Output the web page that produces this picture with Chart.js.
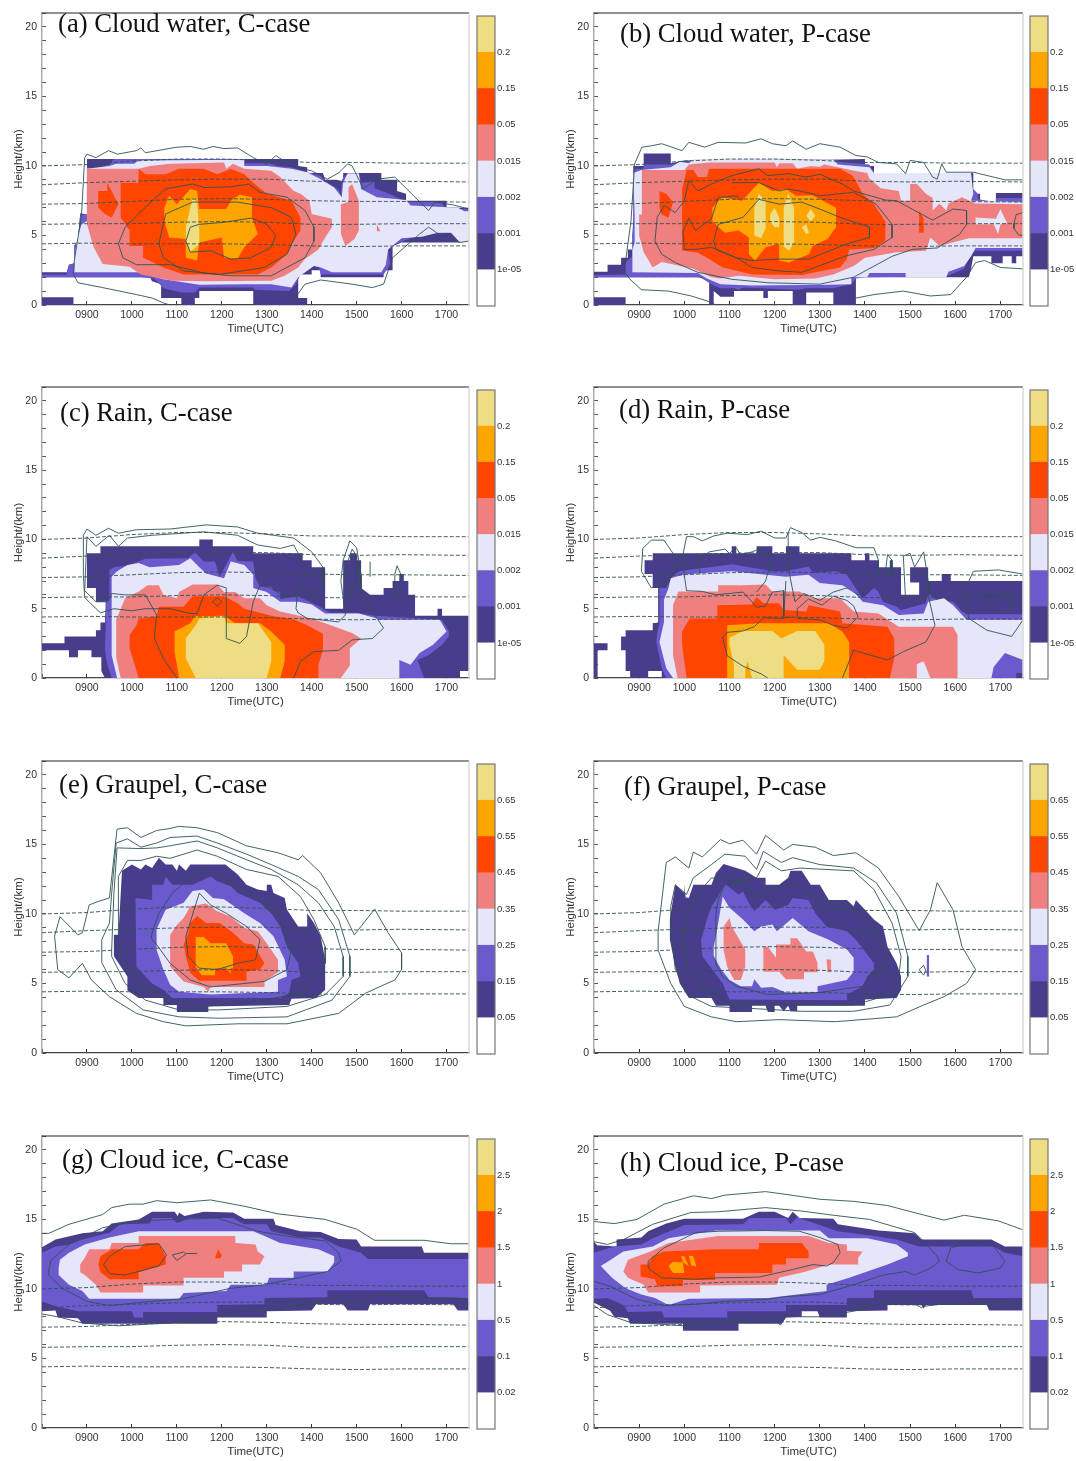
<!DOCTYPE html>
<html>
<head>
<meta charset="utf-8">
<title>Hydrometeor time-height sections</title>
<script src="https://cdn.jsdelivr.net/npm/chart.js@4"></script>
<style>
  html, body { margin: 0; background: #fff; }
  #page { position: relative; width: 1076px; height: 1461px; overflow: hidden; }
  #page canvas { position: absolute; }
  .panelTitle { position: absolute; font-family: "Liberation Serif", serif; font-size: 26.7px; line-height: 26px; color: #111; white-space: nowrap; }
</style>
</head>
<body>
<div id="page"></div>
<script>
// shading classes, low to high
const levelColors = ["#ffffff", "#483d8b", "#6a5acd", "#e6e6fa", "#f08080", "#ff4500", "#ffa500", "#eedd82"];
const waterLabels = ["1e-05", "0.001", "0.002", "0.015", "0.05", "0.15", "0.2"];
const graupelLabels = ["0.05", "0.15", "0.25", "0.35", "0.45", "0.55", "0.65"];
const iceLabels = ["0.02", "0.1", "0.5", "1", "1.5", "2", "2.5"];

// dashed isotherms, [hour UTC, km], the same in every panel
const iso1 = [[8,10],[9,10.1],[10,10.35],[11,10.5],[12,10.5],[13,10.4],[14,10.25],[15,10.25],[16,10.2],[17.5,10.2]];
const iso2 = [[8,8.65],[9,8.8],[10,8.9],[11,9],[12,9.05],[13,9.05],[14,8.9],[15,8.85],[16,8.9],[17.5,8.85]];
const iso3 = [[8,7.25],[9,7.3],[10,7.45],[11,7.6],[12,7.65],[13,7.6],[14,7.5],[15,7.45],[16,7.45],[17.5,7.4]];
const iso4 = [[8,5.8],[9,5.85],[10,5.85],[11,5.95],[12,6],[13,5.95],[14,5.8],[15,5.8],[16,5.85],[17.5,5.85]];
const iso5 = [[8,4.4],[9,4.45],[10,4.4],[11,4.4],[12,4.4],[13,4.35],[14,4.25],[15,4.2],[16,4.25],[17.5,4.25]];

// (a) cloud water, C-case
const aFill1 = [[8,2],[8,2.35],[8.55,2.35],[8.6,2.9],[8.72,3],[8.72,4.3],[8.8,4.6],[8.85,6.6],[9,6.5],[9,10.5],[13.7,10.5],[13.7,10],[13.9,9.9],[13.9,9.5],[14.25,9.5],[14.3,9],[14.55,9],[14.7,8.9],[14.7,9.5],[15.55,9.5],[15.55,9],[15.9,9],[15.9,8.2],[16.1,8],[16.1,7.5],[17,7.5],[17,7],[17.5,7],[17.5,4.6],[17.3,4.5],[16,4.5],[15.85,4.3],[15.8,4.2],[15.8,2.5],[15.6,2.5],[15.6,2],[14.2,2],[14.2,2.5],[14,2.5],[14,2.2],[13.7,2.2],[13.7,0.5],[13.9,0.5],[13.9,0],[12.7,0],[12.7,1],[11.5,1],[11.5,0.5],[11.4,0.5],[11.4,0],[11.1,0],[11.1,0.5],[10.65,0.5],[10.65,1.5],[10.45,1.7],[10.4,2]];
const aFill1b = [[8,0],[8,0.55],[8.7,0.55],[8.7,0]];
const aFill2 = [[8,2],[8,2.2],[8.55,2.2],[8.6,2.9],[8.72,3],[8.72,4.3],[8.8,4.6],[8.85,6.5],[9,6.5],[9,9.9],[9.15,9.7],[9.5,10.1],[9.6,10.5],[12.5,10.5],[12.5,10.2],[13.05,10.2],[13.25,10],[13.55,9.9],[13.9,9.55],[14.2,9.3],[14.3,8.9],[14.6,8.3],[14.65,7.9],[14.67,9],[14.8,9.5],[15.05,9.5],[15.1,8.8],[15.4,8.9],[15.4,8.4],[15.8,7.9],[16.1,7.4],[16.9,7.4],[16.95,7.05],[17.25,7],[17.3,6.9],[17.5,6.9],[17.5,4.6],[17.35,4.6],[17.1,5.2],[16.4,5.05],[16,4.55],[15.8,4.3],[15.7,4],[15.75,2.9],[15.6,2.2],[14.2,2.2],[14.15,2.9],[13.95,2.9],[13.75,2.2],[13.65,1.5],[13.5,1],[12.75,1.1],[12.7,1.25],[11.5,1.25],[11.4,0.9],[11.1,0.9],[10.7,1.2],[10.5,1.9],[10.2,2]];
const aFill3 = [[8.72,2.35],[8.72,3.2],[8.77,4.6],[8.88,5.8],[9,6.05],[9,9.8],[9.5,10],[9.65,10.15],[10.05,10.15],[10.15,10.4],[12.5,10.45],[12.5,10],[13,10],[13.55,9.8],[13.9,9.55],[14.2,9.05],[14.5,8.45],[14.67,7.75],[14.7,8.8],[14.8,9.45],[15.05,9.45],[15.1,8.35],[15.45,7.75],[16.1,7.55],[16.2,7.15],[17.25,7],[17.4,6.75],[17.5,6.75],[17.5,4.5],[17.3,4.5],[17.1,5.2],[16.8,5.2],[16.45,4.9],[16,4.8],[15.7,4],[15.65,2.9],[15.55,2.35],[14.45,2.35],[14.2,2.7],[14.05,2.8],[13.7,2],[13.55,1.25],[13.1,1.5],[12.5,1.5],[11.5,1.45],[10.7,1.85],[10.15,2.35]];
const aFill4 = [[9,9.8],[10.15,9.8],[10.4,10],[10.85,10.15],[12.05,10.25],[12.1,9.8],[12.25,10.15],[12.5,9.8],[13.1,9.65],[13.3,9.2],[13.6,8.2],[13.75,8],[13.95,7.5],[14,6.55],[14.45,6.2],[14.45,5.6],[14.3,4.85],[14.15,4],[13.85,3.3],[13.7,2.7],[13.4,2.1],[13.1,1.75],[11.6,1.7],[10.9,1.75],[10.2,2.2],[9.95,2.75],[9.35,2.95],[9.15,4.15],[9,5.8]];
const aFill4b = [[14.75,4.25],[14.95,4.75],[15.05,5.35],[15.05,7.5],[14.9,8.7],[14.82,8.45],[14.82,7.4],[14.65,7.25],[14.65,5.1]];
const aFill4c = [[15.45,5.8],[15.53,5.3],[15.45,5.3]];
const aFill5 = [[9.75,8.8],[10.15,8.8],[10.15,9.8],[10.3,9.4],[10.75,9.4],[11.05,9.8],[11.6,9.8],[11.9,9.4],[12.2,9.8],[12.5,9.4],[12.7,8.8],[13,8],[13.55,7.5],[13.75,6.3],[13.75,5.35],[13.6,4.6],[13.45,3.65],[13.1,2.7],[12.8,2.2],[11.15,2.2],[10.7,2.7],[10.25,3.4],[10.25,4.25],[9.95,4.25],[9.95,5.35],[9.75,6.3]];
const aFill5b = [[9.25,8.2],[9.45,8.2],[9.45,8.8],[9.55,8.2],[9.7,7.25],[9.55,6.3],[9.4,6.55],[9.25,7]];
const aFill6 = [[10.72,7],[10.83,7.85],[11,7.25],[11.3,8.35],[11.45,8.2],[11.5,6.9],[12.1,6.9],[12.2,7.5],[12.4,7.95],[12.67,7.75],[12.67,6.3],[12.8,5.1],[12.5,4.15],[12.35,3.3],[12.05,3.4],[12,4.85],[11.5,4.5],[11.45,3.2],[11.2,3.4],[11.2,4.75],[10.83,4.85],[10.72,6.05]];
const aFill7 = [[11.2,5.6],[11.3,7],[11.35,7.7],[11.45,7.4],[11.5,5.35],[11.5,4.4],[11.3,3.8],[11.2,4.6]];
const aLine1 = [[10.85,0],[10.7,0.15],[10.45,0.5],[10.1,0.75],[9.35,1.25],[8.8,1.6],[8.7,2.2],[8.72,3.2],[8.88,6.5],[8.95,10.6],[9,10.85],[9.2,10.6],[9.48,11.1],[9.68,10.85],[10.1,11.1],[10.2,11.3],[10.3,10.95],[11,11.35],[11.3,11.4],[11.6,11.2],[11.8,11.4],[12.05,11.25],[12.35,11.3],[12.7,10.6],[13,10.1],[13.2,10.75],[13.55,10],[14,9.65],[14.35,9.05],[14.6,9.5],[14.8,10.15],[14.9,10],[15.15,8.35],[15.45,9.05],[15.85,9.2],[16.3,7.75],[16.6,6.8],[16.75,7.4],[17.15,7.2],[17.5,6.9]];
const aLine1b = [[17.5,4.6],[17.3,4.5],[16.8,5.15],[16.6,5.6],[16.4,5.1],[15.8,3.4],[15.6,1.5],[15.35,1.25],[14.9,1.5],[14.2,1.8],[13.85,1.5],[13.55,0.15]];
const aLine2 = [[9.7,4.4],[9.85,5.6],[10.15,6.55],[10.45,7.5],[10.75,8.35],[11.35,8.7],[11.6,8.45],[12.2,8.5],[12.6,8.7],[12.85,8.1],[13.45,7.75],[13.85,6.8],[14.05,5.6],[14.05,4.6],[13.85,3.4],[13.1,2.1],[12.2,2.1],[11.6,2.3],[10.85,2.9],[10.1,2.9],[9.8,3.4],[9.7,4.4]];
const aLine3 = [[10.6,4.4],[10.75,6.55],[11.35,7.4],[11.9,7.4],[12.35,7.4],[13.1,7],[13.55,6.3],[13.65,5.1],[13.45,3.65],[12.95,2.7],[11.95,2.2],[11.15,2.45],[10.7,3.4],[10.6,4.4]];
const aLine4 = [[11.2,4.6],[11.3,5.6],[11.5,5.8],[12.05,5.95],[12.65,6.25],[13,5.8],[13.2,5],[13.1,4.15],[12.65,3.4],[12.2,3.3],[11.75,3.9],[11.3,3.8],[11.2,4.6]];

// (b) cloud water, P-case
const bFill1 = [[8,2],[8,2.4],[8.3,2.4],[8.3,2.9],[8.6,2.9],[8.6,3.4],[8.75,3.4],[8.75,4],[8.85,4],[8.85,5],[8.87,6.2],[8.87,10],[9.1,10],[9.1,10.9],[9.7,10.9],[9.7,10.2],[10,10.4],[11,10.45],[13.25,10.45],[14,10.5],[14,10],[14.2,10],[14.2,9.5],[16.4,9.5],[16.4,8],[16.55,8],[16.55,7.4],[16.9,7.4],[16.9,8.05],[17.5,8.05],[17.5,3.5],[17.35,3.5],[17.35,3],[17.25,3],[17.25,3.5],[17.05,3.5],[17.05,3],[16.8,3],[16.8,3.5],[16.4,3.5],[16.35,2.6],[16.3,2],[13.8,2],[13.8,0],[13.3,0],[13.3,0.9],[12.7,0.9],[12.7,0],[12.4,0],[12.4,1],[11.85,1],[11.85,0.5],[11.75,0.5],[11.75,1],[11.1,1],[11.1,0.6],[10.8,0.6],[10.65,1],[10.65,0],[10.55,0],[10.55,1.8],[10.3,2]];
const bFill1b = [[8,0],[8,0.55],[8.7,0.55],[8.7,0]];
const bFill2 = [[8,2],[8,2.15],[8.7,2.2],[8.7,3.1],[8.85,3.5],[8.85,5],[8.88,6],[8.88,9.8],[9.1,9.8],[9.1,10.1],[9.7,10.1],[10,10.3],[11,10.45],[13.4,10.45],[13.4,10.3],[14.1,10.1],[14.2,9.5],[16.35,9.5],[16.35,8.5],[16.5,8],[16.5,7.6],[16.9,7.4],[16.9,7.7],[17.5,7.7],[17.5,3.9],[16.45,3.9],[16.3,3.5],[16.2,2.6],[15.8,2.05],[14,2],[13.8,1.9],[13.7,1.5],[13.3,1.2],[12.7,1.2],[12.5,1.1],[11.3,1.25],[11.2,1.1],[11.1,1.2],[10.8,1.2],[10.6,1.5],[10.35,2]];
const bFill3 = [[8.85,2.35],[8.85,4],[8.9,4.5],[8.9,6.5],[8.87,9.5],[9.05,9.7],[9.7,9.9],[9.9,10.3],[10.1,10.2],[10.2,10.5],[13.3,10.45],[13.4,10.1],[14.1,9.9],[14.2,9.5],[16.35,9.5],[16.4,8],[16.35,7.5],[17.5,7.4],[17.5,4.1],[16.45,4.1],[16.35,3.5],[16.2,2.8],[15.85,2.4],[15.8,2],[14.9,2],[14.9,2.3],[14.1,2.3],[14.05,2],[13.7,2],[13.7,1.5],[13.2,1.45],[11.5,1.4],[10.8,1.5],[10.5,1.9],[10.3,2.3]];
const bFill4 = [[9.06,9.7],[10,9.7],[10.1,10.1],[10.55,10.25],[12,10.25],[12.05,9.9],[12.1,10.2],[12.4,10.2],[12.5,9.8],[12.8,10],[13,9.95],[13.1,10.1],[13.4,9.9],[13.85,9.6],[14.05,9.5],[14.1,9.1],[14.35,8.4],[14.75,8.2],[14.8,7.5],[15,7.5],[15,8.7],[15.15,8.7],[15.35,8],[15.5,7.7],[15.5,6.8],[15.65,7.3],[15.8,6.8],[15.85,7.3],[16.15,7.75],[16.45,7.3],[17.5,7.25],[17.5,4.8],[16.3,4.8],[15.65,4.25],[15.45,4.85],[15.35,3.9],[14.7,3.8],[14,3.4],[13.75,2.8],[13.3,2.2],[12.9,1.9],[12,1.85],[11.2,2.1],[10.8,1.9],[10.6,2],[10.2,2.6],[9.5,3.1],[9.3,2.7],[9.1,3.8],[9,5],[9,6.5],[9.06,6.5]];
const bHole1 = [[16.45,6.3],[16.9,6.2],[17,6.9],[17.1,6.2],[17.15,5.9],[17,5.8],[16.95,5.1],[16.85,5.8],[16.45,5.8]];
const bFill5 = [[9.97,3.9],[9.95,8.3],[10.05,9.7],[10.2,9.7],[10.3,9.2],[10.5,9.2],[10.55,9.8],[13.45,9.8],[13.73,9.3],[13.95,8],[14.2,7.25],[14.45,6],[14.45,4.6],[14.2,4.1],[13.65,4],[13.6,3.3],[13.45,2.7],[12.6,2.15],[11.5,2.2],[10.85,2.7],[10.55,3.3],[10.3,3.75]];
const bFill5b = [[9.45,8.2],[9.6,8],[9.75,7.4],[9.65,6.3],[9.5,6.5],[9.45,7]];
const bFill5c = [[15.2,5.2],[15.2,6.8],[15.3,6.2],[15.3,5.2]];
const bFill6 = [[10.62,7],[10.83,7.75],[11.28,7.5],[11.65,8.8],[11.95,8.2],[12.25,8.35],[12.47,7.85],[12.84,7.9],[13.36,7],[13.36,5.6],[13.17,4.75],[12.84,4.25],[12.76,3.65],[12.32,3.05],[12.1,3.2],[12.1,4.4],[11.8,4.15],[11.57,3.2],[11.43,3.65],[11.43,4.85],[11.2,5.35],[10.9,5.2],[10.76,5.6],[10.62,6.05]];
const bFill7a = [[11.55,5],[11.55,7],[11.65,8],[11.8,7.5],[11.8,5.5],[11.7,4.8]];
const bFill7b = [[11.9,6.5],[12,7],[12.1,6.3],[12.1,5.6],[12,5.6],[11.9,6]];
const bFill7c = [[12.2,4.2],[12.2,7],[12.3,8],[12.43,7],[12.43,4.5],[12.32,3.9]];
const bFill7d = [[12.7,6.4],[12.8,6.9],[12.9,6.4],[12.8,6]];
const bFill7e = [[12.6,5.6],[12.7,5.8],[12.76,5.2],[12.7,5.1]];
const bLine1 = [[10.7,0],[10.5,0.3],[10.15,0.65],[9.65,1],[9.05,1.1],[8.78,1.9],[8.67,2.45],[8.82,6.05],[8.9,10.15],[9.06,11.35],[9.27,11.45],[9.5,11.6],[9.95,11.1],[10.1,11.7],[10.45,11.35],[10.75,11.7],[11.35,11.65],[11.7,11.95],[11.95,11.6],[12.25,11.45],[12.4,11.8],[12.7,11.2],[13,11.6],[13.45,11.35],[13.8,10.75],[14.05,10.65],[14.3,10.25],[14.7,10.15],[14.9,9.45],[15,10.4],[15.3,10.25],[15.5,9.2],[15.6,9.05],[15.7,10.15],[15.8,9.55],[16.4,9.55],[17.1,9],[17.5,9]];
const bLine1b = [[17.5,2.6],[17,2.7],[16.65,3.2],[16.45,3.05],[16.25,2],[15.9,0.75],[15.45,0.65],[14.85,1],[14.2,0.75],[13.8,0.5]];
const bLine2 = [[9.35,4.6],[9.4,6.3],[9.55,7.15],[9.8,6.65],[10,7.5],[10.1,8.95],[10.3,8.2],[10.6,8.7],[11.05,9.3],[11.65,9.8],[11.85,9.3],[12.3,9.45],[12.7,9.2],[13,9.4],[13.5,8.7],[13.75,8.2],[14.45,7.55],[14.7,7.5],[15.5,6.1],[15.95,6.9],[16.25,6.8],[16.25,5.8],[16.1,5.1],[15.6,4.1],[15.05,4],[14.6,3.5],[13.75,2],[13,1.5],[11.85,1.6],[11.05,1.85],[10.3,2.35],[9.8,3.05],[9.5,3.65],[9.35,4.6]];
const bLine3 = [[10.25,4],[10,4],[9.97,5.3],[10.1,6.25],[10.25,5.35],[10.6,6.2],[10.75,7.7],[11.1,7.85],[11.2,7.8]];
const bLine3b = [[11.05,8.8],[11.65,8.8],[12.1,8.2],[12.3,8.35],[12.7,8.1],[13,7.85],[13.75,8.1],[14.25,7.25],[14.6,5.8],[14.6,4.85],[14.2,4],[13.6,3.55],[12.6,2.35],[12.1,2.45],[11.5,2.7],[11.15,3.4],[10.6,4.15],[10.25,4]];
const bLine4 = [[10.65,4.6],[10.75,5.8],[11.3,6.3],[11.65,7.6],[12.1,7.25],[12.6,7.4],[13,6.9],[13.45,6.3],[14.1,5.6],[14.1,4.85],[13.6,4.4],[12.75,3.3],[12.1,3.3],[11.5,3.2],[11.15,3.4],[10.7,4],[10.65,4.6]];
const bLine5 = [[17.5,6.65],[17.35,6.5],[17.3,5.85],[17.3,5.5],[17.4,5.05],[17.5,5]];

// (c) rain, C-case
const cFill1 = [[8,2],[8,2.5],[8.5,2.5],[8.5,3],[9.2,3],[9.2,3.45],[9.3,3.45],[9.3,4],[9.4,4],[9.42,5.5],[9.2,5.5],[9.2,6.5],[9,6.5],[9,9],[9.3,9],[9.3,9.5],[11.5,9.5],[11.5,10],[11.8,10],[11.8,9.5],[12.7,9.5],[12.7,9],[13.8,9],[13.8,8.5],[14,8.5],[14,8],[14.3,8],[14.3,5],[14.7,5],[14.7,8.5],[14.85,8.5],[14.85,9],[15,9],[15,8.5],[15.1,8.5],[15.1,6.5],[15.3,6],[15.6,6],[15.6,6.5],[15.8,6.5],[15.8,7],[15.95,7],[15.95,7.5],[16.05,7.5],[16.05,7],[16.15,7],[16.15,6],[16.3,6],[16.3,4.5],[16.8,4.5],[16.8,5],[16.9,5],[16.9,4.5],[17.5,4.5],[17.5,0.5],[17.3,0.5],[17.3,0],[9.4,0],[9.32,0.5],[9.32,1.5],[9.1,1.5],[9.1,2],[8.8,2],[8.8,1.5],[8.6,1.5],[8.6,2]];
const cFill2 = [[9.55,0],[9.45,1],[9.4,2],[9.42,4],[9.42,5.5],[9.5,5.6],[9.5,7.8],[9.6,8],[9.9,8.1],[10.3,8.6],[11.25,8.65],[11.4,9.1],[11.6,8.4],[11.85,8.4],[11.95,7.3],[12.1,8.2],[12.25,9.1],[12.35,8.45],[12.7,8.4],[12.75,7.2],[12.85,6.6],[13.1,6.6],[13.15,6.3],[13.3,6.2],[13.3,5.7],[13.7,5.9],[14.15,5.2],[14.4,4.7],[15,4.7],[15.4,4.5],[16.9,4.2],[17.05,3.4],[17.05,3],[16.9,2.4],[16.6,1.65],[16.35,1.3],[16.5,0]];
const cFill3 = [[9.67,0],[9.55,1.65],[9.55,7.3],[9.67,7.7],[9.9,8.15],[10.15,8.3],[10.4,8],[11.05,8.15],[11.3,8.65],[11.5,8],[11.65,7.55],[12.05,7.2],[12.2,8.4],[12.5,8.15],[12.7,7.45],[12.7,6.5],[13,6.2],[13.3,5.5],[13.7,5.5],[14,5.3],[14.3,4.65],[15.05,4.65],[15.55,4.2],[16.85,4.2],[17,3.35],[16.7,2.4],[16.4,1.8],[16.2,0.95],[15.95,1.3],[15.95,0]];
const cFill4 = [[9.75,0],[9.65,1.5],[9.65,4.2],[9.85,5.75],[10.15,6.25],[10.35,6.7],[10.6,6.7],[10.7,6],[11,5.75],[11.05,6.2],[11.35,6.75],[11.9,6.75],[12.05,6.2],[12.3,6.2],[12.5,5.75],[12.85,5.75],[13,5.25],[13.3,4.8],[14,4.3],[14.3,3.95],[14.9,3.25],[15.1,2.85],[14.85,2.15],[14.85,0.9],[14.65,0]];
const cFill5 = [[10.15,0],[9.95,2.15],[9.95,3.1],[10.1,3.8],[10.15,4.3],[10.55,4.45],[10.6,5.15],[11.15,5.15],[11.35,5.9],[12.05,5.9],[12.35,5.4],[12.5,5],[13.15,4.45],[13.55,4.3],[13.9,3.8],[14.25,3.2],[14.25,2],[14.15,0.95],[14.15,0]];
const cFill6 = [[11.05,0],[10.95,1.9],[10.95,3.35],[11.3,3.95],[11.4,4.45],[12.05,4.5],[12.3,3.95],[12.85,3.95],[13.1,3.35],[13.4,2.4],[13.4,1.2],[13.3,0]];
const cFill7 = [[11.42,0],[11.2,1.4],[11.2,2.85],[11.45,3.95],[11.5,4.3],[12.05,4.45],[12.1,3.95],[12.8,3.95],[13.1,2.6],[13.1,1.2],[13,0]];
const cLine1 = [[8.92,7.45],[8.92,10.3],[9,10.75],[9.2,10.3],[9.48,10.8],[9.7,10.45],[10.1,10.7],[10.85,10.75],[11.65,11.05],[12.35,10.9],[12.8,10.45],[13.15,10.3],[13.6,10.1],[14,9.1],[14.25,8],[14.25,6.5],[14.1,6.1],[13.75,6.3],[13.4,5.85],[13.1,6.5],[12.85,6.7],[12.7,5.5],[12.55,3],[12.4,2.5],[12.1,2.85],[12.1,6.5],[11.9,6.7],[11.6,6],[11.45,4.65],[11.3,4.65],[10.85,5],[10.3,5],[10,4.85],[9.6,5],[9.3,4.7],[8.95,5.8],[8.92,7.45]];
const cLine2 = [[13.7,4.7],[13.65,5],[13.7,6.5],[13.9,7.6],[13.8,8.4],[13.6,9.6],[13.3,9.35],[12.8,9.6],[12.35,10.3],[11.6,10.55],[10.45,10.3],[9.9,10.1],[9.7,9.5],[9.5,10.3],[9.2,9.5],[9,10.2],[8.95,6.3],[9.2,5.5],[9.45,5.5],[9.55,6.1],[9.85,6],[10.3,6],[10.55,4.55],[10.5,2.85],[10.7,1.4],[11,0]];
const cLine3 = [[13.7,4.7],[13.9,4.3],[14.6,4.05],[14.75,4.55],[14.65,7],[14.7,8.5],[14.85,9.9],[15,9.4],[15.1,7.4],[15.1,6.5],[15.35,4.8],[15.6,3.6],[15.35,2.85],[14.9,2.75],[14.6,2],[14.05,1.9],[13.75,1.2],[13.6,0]];
const cLine4 = [[14.75,7],[14.8,8.4],[14.9,9.3],[15,8.8],[15,7],[14.85,6],[14.75,7]];
const cLine5 = [[11.8,5.5],[11.9,5.8],[12,5.5],[11.9,5.2],[11.8,5.5]];
const cLine6 = [[15.3,7.3],[15.3,8.4]];
const cLine7 = [[15.85,5.9],[15.85,7.5],[15.9,8.1],[15.98,7.5],[15.95,5.9]];

// (d) rain, P-case
const dFill1 = [[9.5,0],[9.5,0.5],[9.2,0.5],[9.2,0],[8.8,0],[8.8,0.5],[8.7,0.5],[8.7,2],[8.6,2],[8.6,3],[8.7,3],[8.7,3.45],[9.3,3.45],[9.3,3.95],[9.42,4],[9.42,6.5],[9.3,6.5],[9.3,7.5],[9.12,7.5],[9.12,8.5],[9.3,8.5],[9.3,9],[11.05,9],[11.05,9.5],[11.15,9.5],[11.15,9],[11.6,9],[11.6,9.5],[11.95,9.5],[11.95,9],[12.25,9],[12.25,9.5],[12.55,9.5],[12.55,9],[13.7,9],[13.7,8.5],[14,8.5],[14,9],[14.1,9],[14.1,8.5],[14.3,8.5],[14.3,8],[14.55,8],[14.55,8.5],[14.6,8.5],[14.6,8],[14.8,8],[14.8,6],[15.2,6],[15.2,6.9],[15,6.9],[15,8],[15.4,8],[15.4,7],[15.7,7],[15.7,7.5],[15.9,7.5],[15.9,7],[17.5,7],[17.5,0]];
const dFill1b = [[8,0],[8,2.5],[8.3,2.5],[8.3,2],[8.08,2],[8.08,0]];
const dFill2 = [[9.6,0],[9.5,0.7],[9.38,2.6],[9.4,3.3],[9.45,3.95],[9.45,6.5],[9.6,6.5],[9.75,7.4],[9.9,7.7],[10.3,7.9],[10.7,8.05],[11.05,8.2],[11.8,7.8],[11.95,7.7],[12.25,7.7],[12.75,8.05],[12.85,7.6],[13.35,7.7],[13.6,7.45],[13.75,6.7],[13.95,5.75],[14.2,6.5],[14.3,6.2],[14.4,5.5],[14.7,5.15],[14.8,4.9],[15.35,5.4],[15.4,6.1],[15.6,5.6],[15.95,5.5],[16.15,4.8],[16.25,4.6],[17.5,4.6],[17.5,0]];
const dPatch1 = [[17.35,0],[17.35,0.35],[17.5,0.35],[17.5,0]];
const dFill3 = [[9.75,0],[9.6,0.7],[9.45,2.6],[9.55,4.05],[9.55,5.65],[9.65,6.5],[9.7,7.2],[9.97,7.45],[10.3,7.55],[11.05,7.7],[11.8,7.45],[12.25,7.3],[12.75,7.45],[13,6.85],[13.5,6.7],[13.75,6.25],[13.95,5.5],[14.4,5.25],[14.75,4.55],[15.3,4.65],[15.4,5.5],[15.75,5.75],[15.95,5.25],[16.25,4.2],[17.5,4.2],[17.5,1.3],[17.1,1.8],[16.85,0.8],[16.8,0]];
const dFill4 = [[9.85,0],[9.75,1.65],[9.75,5.25],[9.87,6.25],[10.75,6.25],[10.75,6.7],[11.25,6.7],[11.8,6.75],[11.95,6.25],[12.55,6.25],[12.85,5.75],[13.45,5.75],[13.75,4.8],[14.3,4.65],[14.75,3.7],[15.95,3.7],[16.05,3.1],[16.05,0]];
const dHole1 = [[15.15,0],[15.15,1],[15.3,1.2],[15.45,0]];
const dFill5 = [[10.05,0],[9.95,2.4],[9.95,3.35],[10.12,4.3],[10.73,4.3],[10.73,5.25],[11.5,5.3],[11.6,5.85],[11.75,5.4],[12.1,5.4],[12.2,4.9],[12.7,4.8],[12.75,5.25],[13.45,4.8],[13.5,3.95],[14.5,3.7],[14.65,2.85],[14.65,1.4],[14.55,0]];
const dFill6 = [[10.95,0],[10.95,3.8],[11.65,3.95],[13.2,3.95],[13.5,3.35],[13.65,2.6],[13.65,0]];
const dFill7 = [[11.1,0],[11.1,1],[11,2.4],[11,2.9],[11.3,3.4],[11.95,3.4],[12.15,2.85],[12.5,3.4],[12.9,3.4],[13.1,2.4],[13.1,1.2],[13,0.6],[12.5,0.6],[12.2,1.65],[12.2,0],[11.5,0],[11.4,1.2],[11.35,0.6],[11.35,0]];
const dLine1 = [[9.27,6.5],[9.05,7.7],[9.08,9.35],[9.27,9.95],[9.55,9.95],[9.8,8.75],[9.83,7.9],[9.6,6.9],[9.27,6.5]];
const dLine2 = [[10,7.3],[9.97,8.9],[10.05,10.2],[10.2,10.2],[10.4,9.9],[10.65,10.25],[10.95,10.45],[11.4,10.35],[11.7,10.6],[12,10.1],[12.25,10.1],[12.35,10.85],[12.6,10.5],[12.8,9.95],[13,10.15],[13.35,9.9],[13.8,9.4],[14.2,9.4],[14.3,8.5],[14.3,7.5],[14.05,6.5],[13.85,6],[13.6,6.5],[13.3,6.2],[13,5.6],[12.65,6.1],[12.45,5.5],[12.3,8],[12.3,10.4]];
const dLine3 = [[10.35,7.5],[10.3,8.5],[10.55,9.1],[10.9,9.3],[11,9],[11.15,9.4],[11.25,8.9],[11.5,9.1],[11.75,9.4],[11.9,8.2],[11.8,7],[11.6,6.2]];
const dLine4 = [[10,7.4],[10.05,6.3],[10.4,6.25],[10.7,6],[11.3,6.2],[11.5,5.5],[11.6,5.1],[11.8,5.2],[11.95,6.2],[12.2,6.3],[12.2,4.4],[12.25,7]];
const dLine5 = [[12.5,4.4],[12.5,5],[12.75,5.7],[13.05,5.25],[13.3,5.9],[13.6,5.6],[13.75,5.2],[13.85,4.4],[13.6,3.6],[13.3,3.8],[13,4.2],[12.5,4.3]];
const dLine6 = [[15.4,6],[15.55,3.8],[15.35,2.6],[14.85,1.9],[14.5,1.3],[13.75,2],[13.5,0]];
const dLine7 = [[11.85,0],[11.7,0.3],[11.3,0.85],[10.95,1.6],[10.85,2.9],[10.95,3.3],[11.3,3.4],[11.55,3.7],[11.75,4.35],[12.1,4.3],[12.4,4.4]];
const dLine8 = [[17.5,7.5],[16.95,7.8],[16.4,7.7],[16.2,6.25],[16.3,4.3],[16.7,3.45],[17.25,3],[17.5,4.2]];
const dLine9 = [[16.65,6],[16.9,5.9],[17.2,6.2],[17.3,5.7],[17.2,4.7],[17,4.85],[16.8,5.4],[16.65,6]];
const dLine10 = [[14.9,5.6],[14.85,8.8],[15,9],[15.1,8],[15.3,9.1],[15.4,7],[15.4,6]];
const dLine11 = [[14.45,7.6],[14.5,8.9],[14.6,8.5],[14.6,7.6],[14.45,7.6]];

// (e) graupel, C-case
const eFill1 = [[9.6,8.5],[9.7,8.5],[9.78,13.1],[10,13.55],[10.2,13.2],[10.3,13.55],[10.45,13.3],[10.6,14.05],[10.75,13.55],[10.9,13.55],[11,13.1],[11.05,13.55],[11.2,13.1],[11.3,13.55],[12.08,13.55],[12.35,12.85],[12.55,12.1],[12.8,11.75],[13,11.65],[13,12.1],[13.1,12.1],[13.15,11.5],[13.4,11.15],[13.45,10.3],[13.7,9.1],[13.9,9.1],[13.9,10.05],[14.05,9.35],[14.2,8.4],[14.3,6.7],[14.3,4.55],[14.1,3.95],[13.55,3.9],[13.5,3.45],[11.7,3.35],[11.7,2.95],[11,2.95],[11,3.45],[10.7,3.45],[10.7,3.95],[10.15,3.95],[9.9,4.5],[9.9,5.5],[9.6,6.95]];
const eFill2 = [[10.08,11.15],[10.45,11],[10.45,12.1],[10.7,12.1],[10.75,12.7],[10.9,12.1],[11.35,12.1],[11.75,12.7],[11.9,12.35],[12.2,12],[12.35,11.5],[12.85,10.8],[13.1,10.05],[13.3,9.1],[13.45,7.65],[13.7,6.45],[13.75,5.5],[13.55,5.25],[13.5,4.3],[13.3,3.95],[10.9,3.95],[10.7,4.55],[10.45,5],[10.1,6.2]];
const eFill3 = [[10.55,7.4],[10.55,8.9],[10.75,10.3],[11.15,10.8],[11.35,11.65],[11.6,11.75],[11.8,11.15],[12.05,11.05],[12.5,10.05],[12.85,9.35],[13.15,8.4],[13.4,6.7],[13.45,5.5],[13.25,5.25],[13.25,4.4],[11.75,4.2],[11.05,4.4],[10.85,4.9],[10.7,6]];
const eFill4 = [[10.85,8.5],[11,9.2],[11.15,9.7],[11.3,10.55],[11.65,10.75],[11.9,10.2],[12.2,9.8],[12.5,9],[12.8,8.75],[13,7.9],[13.25,6.7],[13.25,5.8],[12.95,5.15],[12.95,4.75],[11.75,4.75],[11.7,4.4],[11.6,4.75],[11.15,5.15],[10.85,6.2]];
const eFill5 = [[11.15,7.8],[11.25,8.6],[11.3,9.35],[11.45,9.85],[11.65,9.35],[11.95,9.35],[12.25,8.65],[12.5,7.9],[12.7,7.8],[12.95,6.45],[12.85,6],[12.55,5.85],[12.55,5.2],[11.5,5.2],[11.3,5.75],[11.2,6.95]];
const eFill6 = [[11.42,6.95],[11.42,8.35],[11.6,8.35],[11.75,7.9],[12.1,7.9],[12.25,6.95],[12.25,6.1],[12.2,6.1],[12.2,5.7],[12.1,6.1],[11.85,6.1],[11.85,5.6],[11.55,5.6],[11.42,6.2]];
const eLine1 = [[8.28,8.4],[8.4,9.8],[8.8,8.5],[8.9,8.65],[9.05,10.65],[9.25,10.9],[9.5,11.15],[9.67,16.1],[9.9,16.2],[10.2,15.5],[10.55,16],[10.85,16.15],[11.05,16.3],[11.45,16.2],[11.9,15.85],[12.55,14.9],[13.25,14.4],[13.7,13.9],[13.8,14.2],[14.2,12.95],[14.6,10.8],[14.95,8.5],[15.4,10.35],[15.7,8.65],[16,7.2],[16,6],[15.85,5.25],[15.5,4.75],[15.2,4.3],[14.6,2.85],[13.45,2.1],[12.35,2.1],[11.2,1.95],[10.7,2.25],[10.1,2.85],[9.5,4.05],[9.1,5.25],[8.9,6.45],[8.6,5.4],[8.35,6],[8.28,8.4]];
const eLine2 = [[9.33,7.4],[9.33,8.15],[9.5,9.35],[9.55,11.5],[9.65,15.1],[9.9,15.4],[10.2,14.8],[10.55,15.1],[10.85,15.5],[11.45,15.6],[11.9,15.1],[12.55,14.3],[13.1,13.55],[13.7,12.7],[14.15,11.75],[14.6,9.6],[14.85,6.95],[14.85,5.5],[14.45,3.8],[13.45,2.6],[11.95,2.5],[11.05,2.6],[10.25,3.1],[9.65,4.55],[9.33,6.5],[9.33,7.4]];
const eLine3 = [[9.55,7.4],[9.6,11.5],[9.67,14.75],[10.2,14.7],[10.55,14.75],[10.85,14.9],[11.45,15.25],[11.9,14.75],[12.55,13.9],[13.1,13.2],[13.7,12.1],[14.15,10.8],[14.5,9.1],[14.7,6.95],[14.7,5.5],[14.3,4.2],[13.45,3.35],[11.95,3.1],[11.05,3.1],[10.3,3.8],[9.85,5],[9.55,6.95],[9.55,7.4]];
const eLine4 = [[9.7,9.35],[9.7,12.7],[9.9,13.85],[10.2,13.85],[10.55,14.15],[10.85,14],[11.45,14.6],[11.9,14.15],[12.55,13.2],[13.25,12.7],[13.75,11.25],[14.05,9.6],[14.3,7.65],[14.3,6.45],[13.85,4.4],[12.95,3.8],[11.6,3.35],[10.7,3.95],[10.1,5],[9.7,7.4],[9.7,9.35]];
const eLine5 = [[10.45,8.65],[10.6,10.05],[10.9,11.5],[11.5,13.2],[12.2,12.25],[12.8,11.15],[13.25,9.85],[13.55,7.45],[13.45,6],[12.95,5.15],[11.75,4.75],[11.3,5.25],[10.85,6.45],[10.55,7.8],[10.43,8.25],[10.45,8.65]];
const eLine6 = [[11.2,8.4],[11.5,11.5],[11.75,10.65],[12.1,10.05],[12.55,9.1],[12.85,8.15],[12.75,6.7],[12.35,6.45],[11.9,6],[11.5,6.1],[11.25,6.95],[11.2,8.4]];

// (f) graupel, P-case
const fFill1 = [[9.68,9.6],[9.8,12.1],[10,11.5],[10,12.1],[10.03,11.2],[10.1,11.15],[10.2,12.1],[10.6,12.1],[10.7,12.95],[10.87,13.6],[11.35,13.1],[11.6,12.6],[11.8,12.6],[11.8,12.1],[12.1,12.1],[12.3,12.6],[12.35,13.1],[12.6,13.1],[12.8,12.1],[13,12.1],[13.2,11],[13.6,11],[13.75,10.55],[13.8,11],[14.2,9.6],[14.4,9.1],[14.5,7.65],[14.7,6.45],[14.8,5.5],[14.8,4.55],[14.7,3.95],[14,3.85],[14,3.4],[12.5,3.4],[12.5,3],[12.35,3],[12.3,3.4],[12.2,3],[12.1,3.4],[12,3.4],[12,2.95],[11.85,2.95],[11.8,3.4],[11.5,3.4],[11.5,2.95],[11,2.95],[11,3.4],[10.7,3.4],[10.6,3.95],[10.1,3.95],[9.9,5],[9.8,6.2],[9.68,8.15]];
const fFill2 = [[10.37,8.15],[10.5,9.6],[10.6,10.55],[10.75,11.25],[10.9,12.15],[11.2,11.4],[11.3,11.6],[11.43,10.8],[11.55,10.2],[11.8,11],[12,10.3],[12.3,10.65],[12.4,11.15],[12.75,11],[12.9,10.05],[13.15,9.1],[13.6,8.75],[13.8,8.15],[14.2,6.45],[14.2,6],[14.05,5.5],[13.95,4.8],[13.6,4.2],[13.6,3.8],[11,3.85],[10.85,5],[10.4,6.95]];
const fFill3 = [[10.65,7.65],[10.7,8.4],[10.85,11.25],[11,10.45],[11.3,9.6],[11.55,8.75],[11.7,9.1],[11.95,9.25],[12.05,8.75],[12.4,9.7],[12.75,8.75],[13.2,8.15],[13.6,7.45],[13.75,6.85],[13.75,5.85],[13.6,5.25],[12.95,4.8],[12.95,4.35],[12.25,4.35],[11.95,4.75],[11.7,4.7],[11.55,5.3],[11.5,4.8],[11.25,4.8],[11,5.25],[10.8,6.1],[10.65,7]];
const fFill4a = [[10.87,9.1],[11,9.7],[11.05,9.1],[11.35,7.45],[11.35,6.2],[11.25,5.25],[11.1,5.25],[10.95,6.2],[10.87,7.4]];
const fFill4b = [[11.75,7.65],[11.85,7.65],[12.03,6.85],[12.03,7.8],[12.35,7.8],[12.35,8.25],[12.5,8.25],[12.7,7.3],[12.85,7.3],[12.95,6.45],[12.95,5.8],[12.65,5.8],[12.65,5.3],[12.25,5.3],[12.1,5.85],[11.75,5.85]];
const fFill4c = [[13.15,6.75],[13.25,6.7],[13.25,5.8],[13.17,5.8]];
const fBar = [[15.37,5.5],[15.37,7.05],[15.42,7.05],[15.42,5.5]];
const fLine1 = [[9.42,8.75],[9.6,13.7],[9.8,14.1],[10.1,13.3],[10.2,14.45],[10.4,14.1],[10.8,15.35],[11,15.05],[11.3,15.3],[11.6,14.3],[11.8,15.65],[12.2,14.6],[12.4,15],[12.9,14.8],[13.3,14.2],[13.8,14.4],[14.3,13.3],[14.75,11.25],[15.2,8.8],[15.45,10.3],[15.6,12.25],[15.95,10.3],[16.15,7.65],[16.45,6],[16.25,5],[15.75,4.05],[15.3,3.45],[14.7,2.6],[13.35,2.25],[12.1,2.4],[11.15,2.25],[10.6,2.6],[10,3.35],[9.7,5],[9.42,7.4],[9.42,8.75]];
const fLine2 = [[9.7,10.55],[9.8,12.1],[10.05,11.4],[10.2,12.6],[10.6,13.55],[10.9,14.3],[11.35,14.15],[11.6,13.2],[11.75,14.5],[12.15,13.7],[12.4,14.05],[13,13.55],[13.75,13.3],[14.25,12.25],[14.7,10.05],[14.95,6.95],[14.95,5.5],[14.55,3.45],[13.75,3],[12.6,3],[11.5,3.2],[10.6,3.35],[10.15,4.05],[9.8,6],[9.7,9],[9.7,10.55]];
const fLine3 = [[10,8.65],[10.1,10.3],[10.35,11.65],[10.6,12.6],[11.2,12.4],[11.6,12.6],[11.8,13.8],[12.15,13.1],[12.55,13.3],[13.75,13.1],[14.2,11.75],[14.6,9.35],[14.8,6.95],[14.75,5.5],[14.4,4.05],[13.75,3.45],[12.25,3.45],[11.05,3.6],[10.4,4.65],[10.05,6.2],[9.97,7.9],[10,8.65]];
const fLine4 = [[10.7,7.4],[10.7,10],[10.75,11],[10.9,12.1],[11.3,12.4],[11.55,11.25],[12.1,12],[12.55,12.1],[12.9,11.15],[13.65,10.65],[14.2,8.85],[14.5,7.2],[14.5,6.2],[14.1,5.5],[13.95,4.8],[13,4.35],[11.85,4.2],[11.15,4.8],[10.85,5.5],[10.7,6.4],[10.7,7.4]];
const fLine5 = [[15.2,6],[15.3,6.3],[15.35,5.9],[15.3,5.6],[15.2,6]];

// (g) cloud ice, C-case
const gFill1 = [[8,8.4],[8,13],[8.3,13.55],[8.9,14],[9.35,14.15],[9.55,14.7],[10.15,15],[10.45,15.55],[10.95,15.55],[11.02,15.25],[11.05,15.5],[11.17,15.25],[11.6,15.55],[12.25,15.5],[12.5,15.05],[13.15,15.05],[13.2,14.6],[13.75,14.15],[14.2,14.1],[14.6,13.6],[15,13.55],[15.1,13.05],[16.45,13.05],[16.5,12.6],[17.5,12.6],[17.5,8.45],[17.25,8.45],[17.15,8.9],[15.3,8.9],[15.25,8.45],[14.8,8.45],[14.7,8.9],[14.1,8.9],[14,8.45],[13,8.4],[13,7.95],[11.9,7.95],[11.9,7.5],[8.9,7.5],[8.8,7.9],[8.35,7.95],[8.3,8.45]];
const gFill2 = [[8,9.1],[8,12.6],[8.3,13.05],[8.55,13.15],[8.9,13.55],[9.5,14.05],[9.75,14.65],[10.4,14.7],[10.45,15.1],[10.9,15.1],[11,14.75],[11.3,15.1],[12.25,15.1],[12.5,14.65],[13,14.65],[13.1,14.15],[13.75,13.7],[14.2,13.7],[14.6,13.05],[15.1,12.6],[15.25,12.15],[17.5,12.15],[17.5,9.35],[16.6,9.4],[16.5,9.9],[14.35,9.9],[14.35,9.4],[12.95,9.35],[12.95,8.9],[11.9,8.85],[11.9,8.35],[10.25,8.35],[10.25,7.95],[10.05,7.95],[10,8.4],[8.8,8.4],[8.3,8.75]];
const gFill3 = [[8.37,11.5],[8.4,12.1],[8.6,12.6],[8.95,13.2],[9.5,13.7],[10.15,14.15],[12.7,14.15],[12.95,13.8],[13.3,13.3],[14.15,12.85],[14.5,12.35],[14.5,11.9],[14.35,11.25],[13.6,11.25],[13.6,10.8],[13.05,10.8],[13,10.3],[12.2,10.3],[12.1,9.85],[11.15,9.7],[11.05,9.3],[9.05,9.3],[8.9,9.85],[8.6,10.3],[8.37,11]];
const gFill4 = [[8.85,11.75],[8.95,12.25],[9.05,12.85],[9.5,12.85],[9.55,13.3],[10.15,13.3],[10.15,13.8],[12.3,13.8],[12.3,13.3],[12.75,13.2],[12.8,12.7],[12.95,12.35],[12.85,11.75],[12.45,11.75],[12.45,11.25],[12.05,11.25],[12.05,10.8],[11.15,10.8],[11.15,10.25],[10.25,10.25],[10.25,9.75],[9.3,9.75],[9.2,10.3],[8.95,11],[8.85,11.2]];
const gFill5 = [[9.25,11.75],[9.3,11.2],[9.5,10.7],[10.15,10.7],[10.15,11.2],[10.75,11.75],[10.75,12.35],[10.6,13.3],[10.3,13.3],[10.15,12.85],[9.55,12.85],[9.3,12.35]];
const gFill5b = [[11.85,12.2],[11.92,12.85],[12,12.4],[11.97,12.2]];
const gLine1 = [[8,14],[8.15,14],[8.6,14.65],[9.35,15.35],[9.55,15.85],[9.95,16.1],[10.25,16.1],[10.55,16.35],[11,16.2],[11.75,16.4],[12.5,15.95],[13.25,15.4],[14.3,15],[15,14.3],[15.4,13.5],[16.5,13.5],[17.1,13.25],[17.5,13.25]];
const gLine2 = [[8.15,11.4],[8.2,12.05],[8.6,13.2],[9.35,14.4],[10.1,14.9],[11.9,15.1],[12.8,14.15],[13.45,13.8],[14.3,13.45],[14.6,12.6],[14.65,12],[14.35,11.25],[13.7,10.8],[12.95,10.3],[12.2,10.05],[11.15,9.3],[10.25,9.05],[9.5,8.8],[9,9.1],[8.45,10.05],[8.15,11],[8.15,11.4]];
const gLine3 = [[8,8.2],[8.35,8],[8.9,7.55],[9.7,7.35],[10.85,7.55],[11.9,8],[12.5,8.45],[13,8.45],[13.85,8.9],[14.65,9.35],[15.05,9],[15.25,9.45],[15.7,9.6],[16.4,9.35],[17,9.35],[17.5,9.3]];
const gLine4 = [[9.37,11.75],[9.5,12.35],[9.85,13.05],[10.6,13.25],[10.77,12.45],[10.6,11.65],[9.85,11],[9.5,11.1],[9.37,11.75]];
const gLine5 = [[10.9,12.45],[11.15,12.65],[11.2,12.5],[11,12.05],[10.9,12.45]];
const gLine6 = [[11.2,12.55],[11.45,12.55]];

// (h) cloud ice, P-case
const hFill1 = [[8,9],[8,13.4],[8.07,13.15],[8.5,13.05],[8.5,13.55],[9.05,13.7],[9.2,14.15],[9.6,14.7],[10,15.05],[11.3,15.05],[11.65,15.55],[12,15.55],[12.3,15.1],[12.4,15.55],[12.55,15.1],[13.3,15.05],[13.4,14.65],[14.3,14.2],[15.1,14],[15.25,13.55],[16.8,13.55],[17.1,13.05],[17.5,13.05],[17.5,8.45],[16.75,8.45],[16.7,8.85],[15.35,8.85],[15.3,8.6],[15.25,8.85],[14.5,8.85],[14.5,8.45],[13.6,8.4],[13.6,7.95],[13,7.95],[12.95,8.4],[12.6,8.4],[12.6,8],[12.25,7.95],[12.15,7.5],[11.2,7.5],[11.2,7],[9.97,7],[9.97,7.5],[8.8,7.5],[8.75,7.9],[8.45,8],[8.35,8.45]];
const hFill2 = [[8,9.3],[8,12.6],[8.2,12.8],[8.45,13.05],[9.05,13.2],[9.3,13.65],[10,14.6],[11.3,14.65],[11.45,15.1],[12.25,15.1],[12.35,14.65],[12.5,15.15],[13.4,14.15],[14.2,13.8],[14.7,13.55],[15.2,13.05],[16.85,13.05],[17.1,12.6],[17.5,12.35],[17.5,9.35],[16.4,9.35],[16.35,9.9],[14.2,9.9],[14.2,9.35],[13.6,9.35],[13.6,8.85],[12.25,8.85],[12.25,8.4],[10.95,8.4],[10.95,7.95],[9.55,7.95],[9.5,8.4],[8.75,8.35],[8.65,8.85],[8.3,9.35]];
const hFill3 = [[8.15,11.65],[8.37,12.1],[8.65,12.7],[9.3,13.05],[9.65,13.65],[10.7,14.2],[13,14.2],[13.2,13.65],[14.05,13.65],[14.7,13.2],[14.95,12.6],[14.95,12.35],[14.5,11.75],[14.05,11.25],[13.65,10.8],[13.15,10.3],[13.15,9.85],[11.85,9.35],[10.1,9.3],[9.65,8.85],[9.35,9.35],[9.05,9.6],[8.7,10.05],[8.4,10.8]];
const hFill4 = [[8.65,11.25],[8.75,12.1],[9.25,12.7],[9.65,13.3],[10.75,13.8],[12.75,13.8],[13.2,13.3],[13.6,13.2],[13.6,12.75],[13.95,12.7],[13.85,12.25],[13.85,11.75],[13.2,11.75],[12.7,11.25],[12.1,10.8],[12.05,10.3],[10.35,10.25],[10.35,9.75],[9.2,9.75],[9.1,10.3],[8.75,10.8]];
const hFill5 = [[9.03,11.75],[9.03,10.9],[9.35,10.7],[9.4,10.2],[9.95,10.2],[9.97,10.65],[10.68,10.65],[10.68,11.15],[11.95,11.15],[11.95,11.75],[12.25,11.75],[12.25,12.2],[12.75,12.2],[12.75,12.7],[12.6,13.3],[11.65,13.3],[11.65,12.85],[10.7,12.85],[9.55,12.7],[9.3,12.35],[9.2,11.75]];
const hFill6a = [[9.65,11.65],[9.75,11.95],[9.97,11.9],[10,11.15],[9.75,11.15]];
const hFill6b = [[9.93,12.35],[10,12.35],[10.1,11.65],[9.97,11.9]];
const hFill6c = [[10.1,12.4],[10.2,12.35],[10.27,11.6],[10.15,11.7]];
const hLine1 = [[8,14.85],[8.45,14.7],[8.95,15],[9.55,16.1],[10.2,16.7],[10.6,16.5],[10.9,16.75],[11.8,17],[12.25,16.8],[13,16.45],[13.75,16.3],[14.5,16],[15.2,15.4],[15.75,14.95],[16.2,15.3],[16.95,14.9],[17.5,14.25]];
const hLine2 = [[8,13.4],[8.3,13.2],[8.65,13.55],[9.3,14.65],[10.15,15.5],[10.75,15.55],[11.8,15.85],[12.6,15.6],[13.3,15.3],[14.1,15],[15.1,14.05],[15.25,13.6],[15.6,12.35],[15.65,12],[15.45,11.5],[15.1,11],[14.9,11.25],[14.4,11],[13.75,10.3],[13,9.6],[12.25,9.45],[11.85,9.25],[10.9,9.1],[10.25,8.9],[9.55,8.8],[8.95,9.25],[8.35,10.2],[8,10.55]];
const hLine3 = [[8,8.8],[8.3,8.15],[8.8,7.6],[10,7.35],[10.95,7.65],[11.95,7.95],[12.13,7.4],[12.25,8],[13,8],[13.75,8.4],[14.5,9.1],[14.85,9.35],[15.25,8.65],[15.3,8.75],[16.2,9.1],[17.5,8.9]];
const hLine4 = [[9.2,11.5],[9.2,12],[9.55,12.95],[10.25,14.05],[10.75,14.15],[11.8,14.2],[12.55,14.15],[13,13.7],[13.4,13.2],[13.45,12.6],[13.3,11.9],[13.15,11.65],[12.85,11.75],[12.4,11.4],[11.65,10.85],[10.75,10.8],[10.25,10.7],[9.5,10.8],[9.2,11.5]];
const hLine5 = [[15.8,12],[15.9,12.95],[16.45,13.5],[16.85,13.05],[17.1,12],[17,11.5],[16.5,11.15],[16.05,11.4],[15.8,12]];

const panels = [
  { title: "(a) Cloud water, C-case", col: 0, row: 0, tx: 58, ty: 23, labels: waterLabels,
    fills: [[1,aFill1],[1,aFill1b],[2,aFill2],[3,aFill3],[4,aFill4],[4,aFill4b],[4,aFill4c],[5,aFill5],[5,aFill5b],[6,aFill6],[7,aFill7]],
    lines: [aLine1,aLine1b,aLine2,aLine3,aLine4] },
  { title: "(b) Cloud water, P-case", col: 1, row: 0, tx: 620, ty: 33, labels: waterLabels,
    fills: [[1,bFill1],[1,bFill1b],[2,bFill2],[3,bFill3],[4,bFill4],[3,bHole1],[5,bFill5],[5,bFill5b],[5,bFill5c],[6,bFill6],[7,bFill7a],[7,bFill7b],[7,bFill7c],[7,bFill7d],[7,bFill7e]],
    lines: [bLine1,bLine1b,bLine2,bLine3,bLine3b,bLine4,bLine5] },
  { title: "(c) Rain, C-case", col: 0, row: 1, tx: 60, ty: 412, labels: waterLabels,
    fills: [[1,cFill1],[2,cFill2],[3,cFill3],[4,cFill4],[5,cFill5],[6,cFill6],[7,cFill7]],
    lines: [cLine1,cLine2,cLine3,cLine4,cLine5,cLine6,cLine7] },
  { title: "(d) Rain, P-case", col: 1, row: 1, tx: 619, ty: 409, labels: waterLabels,
    fills: [[1,dFill1],[1,dFill1b],[2,dFill2],[1,dPatch1],[3,dFill3],[4,dFill4],[3,dHole1],[5,dFill5],[6,dFill6],[7,dFill7]],
    lines: [dLine1,dLine2,dLine3,dLine4,dLine5,dLine6,dLine7,dLine8,dLine9,dLine10,dLine11] },
  { title: "(e) Graupel, C-case", col: 0, row: 2, tx: 59, ty: 784, labels: graupelLabels,
    fills: [[1,eFill1],[2,eFill2],[3,eFill3],[4,eFill4],[5,eFill5],[6,eFill6]],
    lines: [eLine1,eLine2,eLine3,eLine4,eLine5,eLine6] },
  { title: "(f) Graupel, P-case", col: 1, row: 2, tx: 624, ty: 786, labels: graupelLabels,
    fills: [[1,fFill1],[2,fFill2],[3,fFill3],[4,fFill4a],[4,fFill4b],[4,fFill4c],[2,fBar]],
    lines: [fLine1,fLine2,fLine3,fLine4,fLine5] },
  { title: "(g) Cloud ice, C-case", col: 0, row: 3, tx: 62, ty: 1159, labels: iceLabels,
    fills: [[1,gFill1],[2,gFill2],[3,gFill3],[4,gFill4],[5,gFill5],[5,gFill5b]],
    lines: [gLine1,gLine2,gLine3,gLine4,gLine5,gLine6] },
  { title: "(h) Cloud ice, P-case", col: 1, row: 3, tx: 620, ty: 1162, labels: iceLabels,
    fills: [[1,hFill1],[2,hFill2],[3,hFill3],[4,hFill4],[5,hFill5],[6,hFill6a],[6,hFill6b],[6,hFill6c]],
    lines: [hLine1,hLine2,hLine3,hLine4,hLine5] }
];

const colBox = [[42, 468.5], [594, 1022.5]];
const rowBox = [[12.5, 304], [387, 678], [761, 1053], [1136, 1428]];
const barX = [476.5, 1029.5];

const page = document.getElementById("page");
const inkColor = "#333";
const contourColor = "#2f5252";

function addCanvas(left, top, width, height) {
  const c = document.createElement("canvas");
  c.width = width;
  c.height = height;
  c.style.left = left + "px";
  c.style.top = top + "px";
  c.style.width = width + "px";
  c.style.height = height + "px";
  page.appendChild(c);
  return c;
}

function toPoints(arr) {
  return arr.map(function (p) { return { x: p[0], y: p[1] }; });
}

// stop tick labels from pushing the plot area in
function noLabelPadding(s) {
  s.paddingTop = 0;
  s.paddingBottom = 0;
  s.paddingLeft = 0;
  s.paddingRight = 0;
}

// top and right edges of the plot box
const plotFrame = {
  id: "plotFrame",
  afterDraw: function (chart) {
    const a = chart.chartArea;
    const ctx = chart.ctx;
    ctx.save();
    ctx.lineWidth = 1;
    ctx.strokeStyle = "#222";
    ctx.beginPath();
    ctx.moveTo(a.left, a.top);
    ctx.lineTo(a.right, a.top);
    ctx.stroke();
    ctx.lineWidth = 1.5;
    ctx.strokeStyle = "#d8d8d8";
    ctx.beginPath();
    ctx.moveTo(a.right, a.top);
    ctx.lineTo(a.right, a.bottom);
    ctx.stroke();
    ctx.restore();
  }
};

const barFrame = {
  id: "barFrame",
  afterDraw: function (chart) {
    const a = chart.chartArea;
    const ctx = chart.ctx;
    ctx.save();
    ctx.lineWidth = 1.2;
    ctx.strokeStyle = "#777";
    ctx.strokeRect(a.left, a.top, a.right - a.left, a.bottom - a.top);
    ctx.restore();
  }
};

function drawPanel(p) {
  const box = colBox[p.col];
  const rows = rowBox[p.row];
  const axisW = 42, axisH = 40, padTop = 2, padRight = 4;
  const canvas = addCanvas(box[0] - axisW, rows[0] - padTop,
    Math.round(box[1] - box[0] + axisW + padRight), Math.round(rows[1] - rows[0] + padTop + axisH));

  const datasets = [];
  [iso1, iso2, iso3, iso4, iso5].forEach(function (iso) {
    datasets.push({ data: toPoints(iso), showLine: true, pointRadius: 0, borderColor: contourColor,
      borderWidth: 0.9, borderDash: [4, 2], fill: false, order: 0 });
  });
  p.lines.forEach(function (ln) {
    datasets.push({ data: toPoints(ln), showLine: true, pointRadius: 0, borderColor: contourColor,
      borderWidth: 0.9, fill: false, order: 1 });
  });
  p.fills.forEach(function (f, i) {
    datasets.push({ data: toPoints(f[1]), showLine: true, pointRadius: 0, borderWidth: 0,
      backgroundColor: levelColors[f[0]], fill: "shape", order: 2 + p.fills.length - i });
  });

  new Chart(canvas.getContext("2d"), {
    type: "scatter",
    data: { datasets: datasets },
    plugins: [plotFrame],
    options: {
      responsive: false,
      animation: false,
      layout: { padding: { top: padTop, right: padRight } },
      plugins: { legend: { display: false }, tooltip: { enabled: false } },
      scales: {
        x: {
          type: "linear", min: 8, max: 17.5,
          afterFit: function (s) { s.height = axisH; noLabelPadding(s); },
          border: { color: "#444", width: 1.2 },
          grid: { drawOnChartArea: false, tickLength: -4, tickColor: "#333" },
          ticks: {
            stepSize: 1, includeBounds: false, maxRotation: 0, autoSkip: false, padding: 8,
            color: inkColor, font: { family: "Liberation Sans", size: 10.5 },
            callback: function (v) { return v === 8 ? "" : String(v * 100).padStart(4, "0"); }
          },
          title: { display: true, text: "Time(UTC)", color: inkColor, padding: { top: 0, bottom: 9 },
            font: { family: "Liberation Sans", size: 11.5 } }
        },
        y: {
          min: 0, max: 21,
          afterFit: function (s) { s.width = axisW; noLabelPadding(s); },
          border: { color: "#aaa", width: 1.5 },
          grid: { drawOnChartArea: false, tickLength: -4, tickColor: "#555" },
          ticks: {
            stepSize: 1, autoSkip: false, padding: 9,
            color: inkColor, font: { family: "Liberation Sans", size: 10.5 },
            callback: function (v) { return v % 5 === 0 ? String(v) : ""; }
          },
          title: { display: true, text: "Height/(km)", color: inkColor, padding: { top: 12, bottom: 0 },
            font: { family: "Liberation Sans", size: 11.5 } }
        }
      }
    }
  });

  drawColorBar(p);

  const t = document.createElement("div");
  t.className = "panelTitle";
  t.textContent = p.title;
  t.style.left = p.tx + "px";
  t.style.top = (p.ty - 13) + "px";
  page.appendChild(t);
}

function drawColorBar(p) {
  const rows = rowBox[p.row];
  const labelW = 38;
  const barW = 17;
  const canvas = addCanvas(barX[p.col] - 1, rows[0] + 2.2, barW + labelW + 2, Math.round(rows[1] - rows[0]));
  new Chart(canvas.getContext("2d"), {
    type: "bar",
    data: {
      labels: [""],
      datasets: levelColors.map(function (c) {
        return { data: [1], backgroundColor: c, barPercentage: 1, categoryPercentage: 1 };
      })
    },
    plugins: [barFrame],
    options: {
      responsive: false,
      animation: false,
      layout: { padding: { left: 1, top: 1, bottom: 1 } },
      plugins: { legend: { display: false }, tooltip: { enabled: false } },
      scales: {
        x: { stacked: true, display: false },
        y: {
          stacked: true, position: "right", min: 0, max: 8,
          afterFit: function (s) { s.width = labelW; noLabelPadding(s); },
          border: { display: false },
          grid: { display: false, drawTicks: false },
          ticks: {
            stepSize: 1, padding: 2, color: inkColor, font: { family: "Liberation Sans", size: 9.5 },
            callback: function (v) { return p.labels[v - 1] || ""; }
          }
        }
      }
    }
  });
}

panels.forEach(drawPanel);
</script>
</body>
</html>
